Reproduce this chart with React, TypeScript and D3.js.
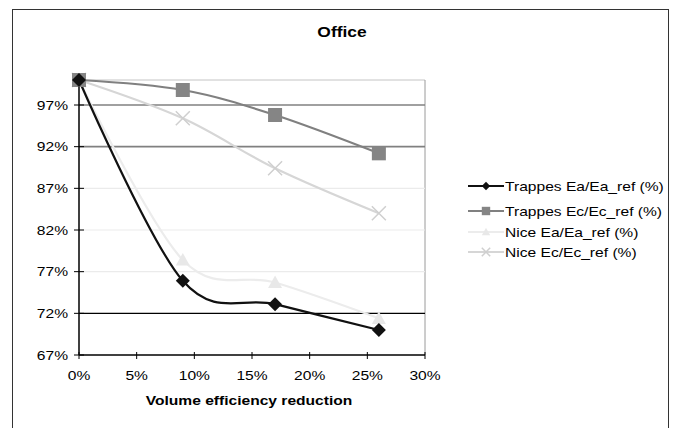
import React from "react";
import * as d3 from "d3";

const xValues = [0, 9, 17, 26];
const trappesEa = [100, 75.9, 73.1, 70.0];
const trappesEc = [100, 98.8, 95.8, 91.2];
const niceEa = [100, 78.4, 75.7, 71.4];
const niceEc = [100, 95.4, 89.4, 84.0];
const yTicks = [67, 72, 77, 82, 87, 92, 97];
const xTicks = [0, 5, 10, 15, 20, 25, 30];
const seriesNames = [
  "Trappes Ea/Ea_ref (%)",
  "Trappes Ec/Ec_ref (%)",
  "Nice Ea/Ea_ref (%)",
  "Nice Ec/Ec_ref (%)",
];

const W = 679;
const H = 428;
const L = 79, R = 425, T = 80, B = 355;
const SX = 1.2;

const gridColor: Record<number, string> = {
  67: "none", 72: "#000000", 77: "#ebebeb", 82: "#ebebeb", 87: "#ebebeb", 92: "#808080", 97: "#808080",
};

type Marker = "diamond" | "square" | "triangle" | "x";
const series = [
  { name: seriesNames[0], values: trappesEa, line: "#111111", fill: "#111111", marker: "diamond" as Marker },
  { name: seriesNames[1], values: trappesEc, line: "#808080", fill: "#858585", marker: "square" as Marker },
  { name: seriesNames[2], values: niceEa, line: "#ececec", fill: "#e8e8e8", marker: "triangle" as Marker },
  { name: seriesNames[3], values: niceEc, line: "#d6d6d6", fill: "#cfcfcf", marker: "x" as Marker },
];

function Txt({ x, y, children, anchor = "start", size = 13, bold = false }: any) {
  return (
    <text
      transform={`translate(${x},${y}) scale(${SX},1)`}
      textAnchor={anchor}
      fontSize={size}
      fontWeight={bold ? "bold" : "normal"}
      fill="#000"
    >
      {children}
    </text>
  );
}

function MarkerShape({ type, x, y, color, small }: { type: Marker; x: number; y: number; color: string; small?: boolean }) {
  const s = small ? 0.6 : 1;
  if (type === "diamond") {
    const r = 7 * s;
    return <path d={`M${x},${y - r}L${x + r},${y}L${x},${y + r}L${x - r},${y}Z`} fill={color} />;
  }
  if (type === "square") {
    const r = 7 * s;
    return <rect x={x - r} y={y - r} width={2 * r} height={2 * r} fill={color} />;
  }
  if (type === "triangle") {
    const r = 7 * s;
    return <path d={`M${x},${y - r}L${x + r},${y + r * 0.8}L${x - r},${y + r * 0.8}Z`} fill={color} />;
  }
  const r = 7 * s;
  return (
    <path d={`M${x - r},${y - r}L${x + r},${y + r}M${x - r},${y + r}L${x + r},${y - r}`} stroke={color} strokeWidth={1.5} fill="none" />
  );
}

export default function App() {
  const x = d3.scaleLinear().domain([0, 30]).range([L, R]);
  const y = d3.scaleLinear().domain([67, 100]).range([B, T]);
  const line = d3
    .line<[number, number]>()
    .x((d) => x(d[0]))
    .y((d) => y(d[1]))
    .curve(d3.curveCardinal.tension(0));

  const legendX = 468;
  const legendY = [186, 211, 232, 252];

  return (
    <div style={{ position: "absolute", left: 0, top: 0 }}>
      <svg width={W} height={H} style={{ display: "block", fontFamily: "Liberation Sans, Arial, sans-serif" }}>
        <rect x={0} y={0} width={W} height={H} fill="#ffffff" />
        <rect x={12.5} y={9.5} width={656} height={440} fill="none" stroke="#333333" strokeWidth={1} />
        <Txt x={342} y={36.5} anchor="middle" size={14.5} bold>Office</Txt>

        {/* plot border */}
        <line x1={L} x2={R} y1={T} y2={T} stroke="#c4c4c4" strokeWidth={1} />
        <line x1={R} x2={R} y1={T} y2={B} stroke="#9a9a9a" strokeWidth={1} />

        {/* gridlines */}
        {yTicks.map((t) =>
          gridColor[t] === "none" ? null : (
            <line key={t} x1={L} x2={R} y1={y(t)} y2={y(t)} stroke={gridColor[t]} strokeWidth={t === 92 || t === 97 ? 1.6 : 1.2} />
          )
        )}

        {/* axes */}
        <line x1={L} x2={L} y1={T} y2={B} stroke="#000" strokeWidth={1.5} />
        <line x1={L} x2={R} y1={B} y2={B} stroke="#000" strokeWidth={1.5} />
        {yTicks.map((t) => (
          <g key={"yt" + t}>
            <line x1={L - 5} x2={L + 5} y1={y(t)} y2={y(t)} stroke="#000" />
            <Txt x={L - 11} y={y(t) + 4.7} anchor="end">{t}%</Txt>
          </g>
        ))}
        {xTicks.map((t) => (
          <g key={"xt" + t}>
            <line x1={x(t)} x2={x(t)} y1={B - 3} y2={B + 4} stroke="#000" />
            <Txt x={x(t)} y={380} anchor="middle">{t}%</Txt>
          </g>
        ))}
        <Txt x={249} y={405} anchor="middle" bold>Volume efficiency reduction</Txt>

        {/* series lines (draw lighter first) */}
        {[...series].reverse().map((s) => (
          <path
            key={s.name}
            d={line(xValues.map((v, i) => [v, s.values[i]] as [number, number])) || ""}
            fill="none"
            stroke={s.line}
            strokeWidth={2.2}
          />
        ))}
        {[...series].reverse().map((s) =>
          xValues.map((v, i) => (
            <MarkerShape key={s.name + i} type={s.marker} x={x(v)} y={y(s.values[i])} color={s.fill} />
          ))
        )}

        {/* legend */}
        {series.map((s, i) => (
          <g key={"lg" + i}>
            <line x1={legendX} x2={legendX + 36} y1={legendY[i]} y2={legendY[i]} stroke={s.line} strokeWidth={2} />
            <MarkerShape type={s.marker} x={legendX + 18} y={legendY[i]} color={s.fill} small />
            <Txt x={legendX + 37} y={legendY[i] + 4.7}>{s.name}</Txt>
          </g>
        ))}
      </svg>
    </div>
  );
}
